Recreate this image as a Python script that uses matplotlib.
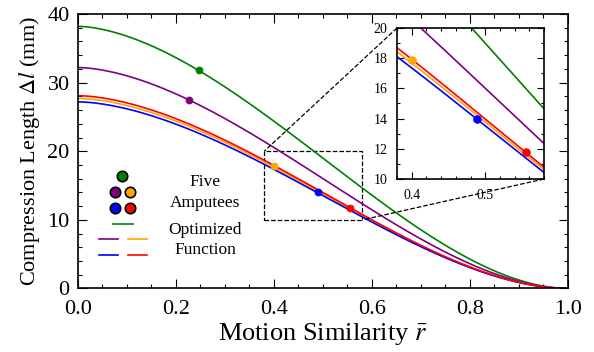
import numpy as np
import matplotlib
matplotlib.use("Agg")
import matplotlib.pyplot as plt
from matplotlib.ticker import MultipleLocator
from mpl_toolkits.axes_grid1.inset_locator import mark_inset

plt.rcParams['font.family'] = ['Liberation Serif', 'DejaVu Serif']
plt.rcParams['mathtext.fontset'] = 'stix'

# five amputees, order: green, purple, orange, blue, red
subject_colors = ['green', 'purple', 'orange', 'blue', 'red']
amputee_r = [0.247, 0.226, 0.400, 0.489, 0.556]
amputee_dl = [31.8, 27.4, 17.85, 14.0, 11.8]

# optimized function dl = A * (1 - r^b)^c
fit_amplitude = [38.2, 32.2, 27.7, 27.2, 28.1]
fit_b = 1.7
fit_c = 1.9


def optimized(r, amp):
    return amp * (1.0 - r ** fit_b) ** fit_c


r = np.linspace(0, 1, 400)

fig = plt.figure(figsize=(5.94, 3.52), dpi=100)
ax = fig.add_axes([0.1313, 0.1804, 0.8249, 0.7798])

for col, amp in zip(subject_colors, fit_amplitude):
    ax.plot(r, optimized(r, amp), color=col, lw=1.2)
for col, x, y in zip(subject_colors, amputee_r, amputee_dl):
    ax.plot(x, y, 'o', color=col, ms=5, mec=col, mew=0.6, zorder=5)

ax.set_xlim(0, 1)
ax.set_ylim(0, 40)
ax.xaxis.set_major_locator(MultipleLocator(0.2))
ax.xaxis.set_minor_locator(MultipleLocator(0.05))
ax.yaxis.set_major_locator(MultipleLocator(10))
ax.yaxis.set_minor_locator(MultipleLocator(2))
ax.xaxis.set_major_formatter(plt.FuncFormatter(lambda v, p: f"{v:.1f}"))
ax.tick_params(which='both', direction='in', top=True, right=True, labelsize=16)
ax.tick_params(which='major', length=6.5, width=0.8)
ax.tick_params(which='minor', length=3, width=0.8)
ax.tick_params(axis='x', pad=8)
ax.tick_params(axis='y', pad=6)
for s in ax.spines.values():
    s.set_linewidth(1.2)
ax.set_xlabel(r"Motion Similarity $\bar{r}$", fontsize=19, labelpad=2)
ax.set_ylabel(r"Compression Length $\mathit{\Delta l}$ (mm)", fontsize=16, labelpad=4)

# hand-made legend
tr = ax.transAxes
leg_marker_xy = [(0.0904, 0.411), (0.0755, 0.3526), (0.1067, 0.3526),
                 (0.0755, 0.292), (0.1067, 0.292)]
for col, (lx, ly) in zip(subject_colors, leg_marker_xy):
    ax.plot(lx, ly, 'o', color=col, ms=7.5, mec='black', mew=1.2, transform=tr, clip_on=False)
leg_line_xy = [((0.0720, 0.1116), 0.235), ((0.0433, 0.0822), 0.1814), ((0.1014, 0.1402), 0.1814),
               ((0.0433, 0.0822), 0.121), ((0.1014, 0.1402), 0.121)]
for col, (xs, ly) in zip(subject_colors, leg_line_xy):
    ax.plot(xs, [ly, ly], color=col, lw=1.2, transform=tr)
for txt, ty in [("Five", 0.388), ("Amputees", 0.311), ("Optimized", 0.213), ("Function", 0.140)]:
    ax.text(0.259, ty, txt, transform=tr, ha='center', va='center', fontsize=12.5)

# inset
axins = fig.add_axes([0.6684, 0.4915, 0.2475, 0.4290])
for col, amp in zip(subject_colors, fit_amplitude):
    axins.plot(r, optimized(r, amp), color=col, lw=1.2)
for col, x, y in zip(subject_colors, amputee_r, amputee_dl):
    axins.plot(x, y, 'o', color=col, ms=5.5, mec=col, mew=0.6, zorder=5)
axins.set_xlim(0.38, 0.58)
axins.set_ylim(10, 20)
axins.xaxis.set_major_locator(MultipleLocator(0.1))
axins.xaxis.set_minor_locator(MultipleLocator(0.02))
axins.yaxis.set_major_locator(MultipleLocator(2))
axins.yaxis.set_minor_locator(MultipleLocator(1))
axins.tick_params(which='both', direction='in', top=True, right=True, labelsize=10, pad=7)
axins.tick_params(which='major', length=5, width=0.8)
axins.tick_params(which='minor', length=2.5, width=0.8)
for s in axins.spines.values():
    s.set_linewidth(1.2)

mark_inset(ax, axins, loc1=2, loc2=4, fc='none', ec='black', ls='--', lw=0.9)

fig.savefig("out.png", dpi=100)
